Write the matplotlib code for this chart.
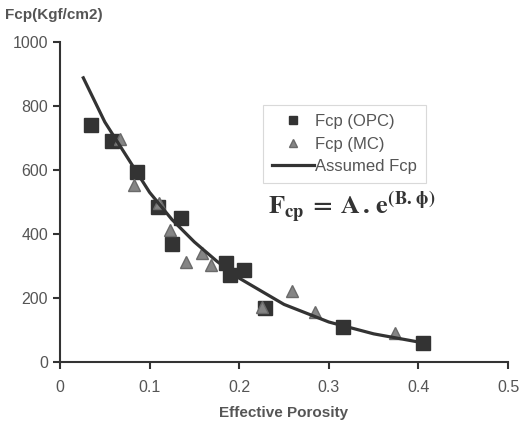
import matplotlib
matplotlib.use("Agg")
import matplotlib.pyplot as plt

plt.rcParams['font.family'] = ['Liberation Sans', 'DejaVu Sans']
plt.rcParams['mathtext.fontset'] = 'stix'

# Fcp (OPC) - квадраты
opc_x = [0.035, 0.058, 0.086, 0.109, 0.125, 0.135, 0.185, 0.190, 0.205, 0.229, 0.316, 0.405]
opc_y = [740, 690, 594, 485, 368, 449, 308, 272, 288, 168, 110, 58]

# Fcp (MC) - треугольники
mc_x = [0.067, 0.083, 0.110, 0.123, 0.141, 0.158, 0.169, 0.225, 0.259, 0.285, 0.374]
mc_y = [696, 553, 498, 412, 313, 340, 303, 173, 223, 157, 92]

fit_x = [0.026, 0.05, 0.075, 0.10, 0.125, 0.15, 0.175, 0.20, 0.25, 0.30, 0.35, 0.405]
fit_y = [888, 750, 640, 530, 445, 375, 315, 262, 180, 125, 88, 60]

x_ticks = [0, 0.1, 0.2, 0.3, 0.4, 0.5]
x_labels = ['0', '0.1', '0.2', '0.3', '0.4', '0.5']
y_ticks = [0, 200, 400, 600, 800, 1000]

dark = '#333333'
tgray = '#555555'

fig = plt.figure(figsize=(5.2, 4.23), dpi=100)
ax = fig.add_axes([0.1154, 0.1442, 0.8616, 0.7565])

ax.plot(opc_x, opc_y, 's', color=dark, markersize=10, label='Fcp (OPC)', zorder=3)
ax.plot(mc_x, mc_y, '^', color='#858585', markeredgecolor='#6a6a6a', markersize=9,
        label='Fcp (MC)', zorder=3)
ax.plot(fit_x, fit_y, '-', color=dark, linewidth=2.3, label='Assumed Fcp', zorder=4)

ax.set_xlim(0, 0.5)
ax.set_ylim(0, 1000)
ax.set_xticks(x_ticks)
ax.set_xticklabels(x_labels)
ax.set_yticks(y_ticks)

for s in ['top', 'right']:
    ax.spines[s].set_visible(False)
for s in ['left', 'bottom']:
    ax.spines[s].set_color(dark)
    ax.spines[s].set_linewidth(1.5)
ax.tick_params(axis='both', colors=dark, labelcolor=tgray, labelsize=11.5,
               direction='out', length=5, width=1.5)
ax.tick_params(axis='x', pad=8)

ax.set_xlabel('Effective Porosity', fontsize=11, fontweight='bold', color=tgray, labelpad=8)
fig.text(0.01, 0.965, 'Fcp(Kgf/cm2)', fontsize=11, fontweight='bold', color=tgray,
         ha='left', va='center')

leg = ax.legend(loc='upper left', bbox_to_anchor=(0.453, 0.803), fontsize=12,
                frameon=True, fancybox=False, handlelength=2.5, handletextpad=0.05,
                borderpad=0.55, labelspacing=0.45, markerscale=0.6, borderaxespad=0)
leg.get_frame().set_edgecolor('#d0d0d0')
leg.get_frame().set_linewidth(0.8)
for t in leg.get_texts():
    t.set_color(tgray)

ax.text(0.465, 0.485, r'$\mathbf{F_{cp}\:=\:A\,.\,e^{(B.\,\phi)}}$', transform=ax.transAxes,
        fontsize=19, color=dark, ha='left', va='center')

fig.savefig('out.png', dpi=100)
